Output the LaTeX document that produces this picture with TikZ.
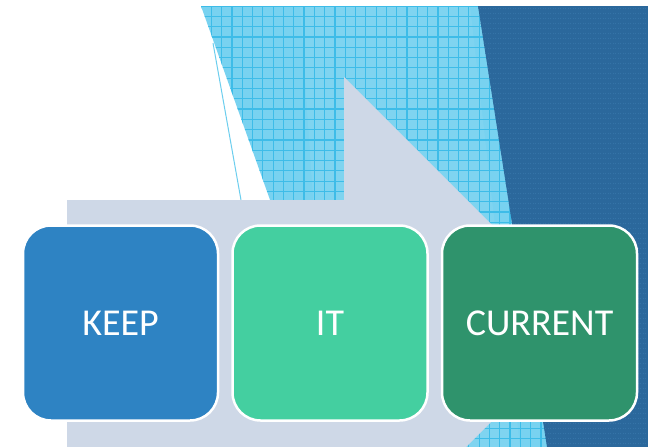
\documentclass[tikz,border=0pt]{standalone}
\usepackage{fontspec}
\newfontfamily\boxfont{Carlito}
\usepackage{tikz}
\usetikzlibrary{positioning}

\definecolor{skyblue}{HTML}{78D2F0}
\definecolor{gridblue}{HTML}{3DBCE8}
\definecolor{deepblue}{HTML}{2B689C}
\definecolor{deepline}{HTML}{3574A8}
\definecolor{arrowgrey}{HTML}{CED8E7}
\definecolor{keepblue}{HTML}{2E83C3}
\definecolor{itgreen}{HTML}{44CFA0}
\definecolor{currentgreen}{HTML}{2F936C}

\begin{document}
\begin{tikzpicture}[x=1pt, y=-1pt, node distance=12pt,
  stepbox/.style={draw=white, line width=2.5pt, rounded corners=28pt,
    minimum width=195pt, minimum height=195pt, text=white,
    font=\boxfont\fontsize{38}{40}\selectfont}]
\useasboundingbox[fill=white] (0,0) rectangle (648,447);

\begin{scope}
\clip (201,6) -- (648,6) -- (648,447) -- (358,447) -- cycle;
\fill[skyblue] (201,6) rectangle (648,447);
\fill[white, opacity=0.06] (300,6) -- (470,6) -- (520,447) -- (330,447) -- cycle;
\foreach \x in {0,...,44}
  \draw[gridblue, line width=1.2pt] (201+10.3*\x,6) -- (201+10.3*\x,447);
\foreach \y in {0,...,43}
  \draw[gridblue, line width=1.2pt] (201,6+10.3*\y) -- (648,6+10.3*\y);
\end{scope}
\draw[skyblue!80!gridblue, line width=1pt] (213,43) -- (241,200);

\fill[deepblue] (478,6) -- (648,6) -- (648,447) -- (547,447) -- cycle;
\begin{scope}
\clip (478,6) -- (648,6) -- (648,447) -- (547,447) -- cycle;
\foreach \y in {0,...,88}
  \draw[deepline, line width=0.8pt, dash pattern=on 1pt off 1.5pt] (470,8+5*\y) -- (648,8+5*\y);
\end{scope}

\fill[arrowgrey] (67,200) -- (344,200) -- (344,77) -- (590,323) -- (466,447) -- (67,447) -- cycle;

\node[stepbox, fill=keepblue] (keep) at (120.5,323) {KEEP};
\node[stepbox, fill=itgreen, right=of keep] (it) {IT};
\node[stepbox, fill=currentgreen, right=of it] (current) {CURRENT};
\end{tikzpicture}
\end{document}
